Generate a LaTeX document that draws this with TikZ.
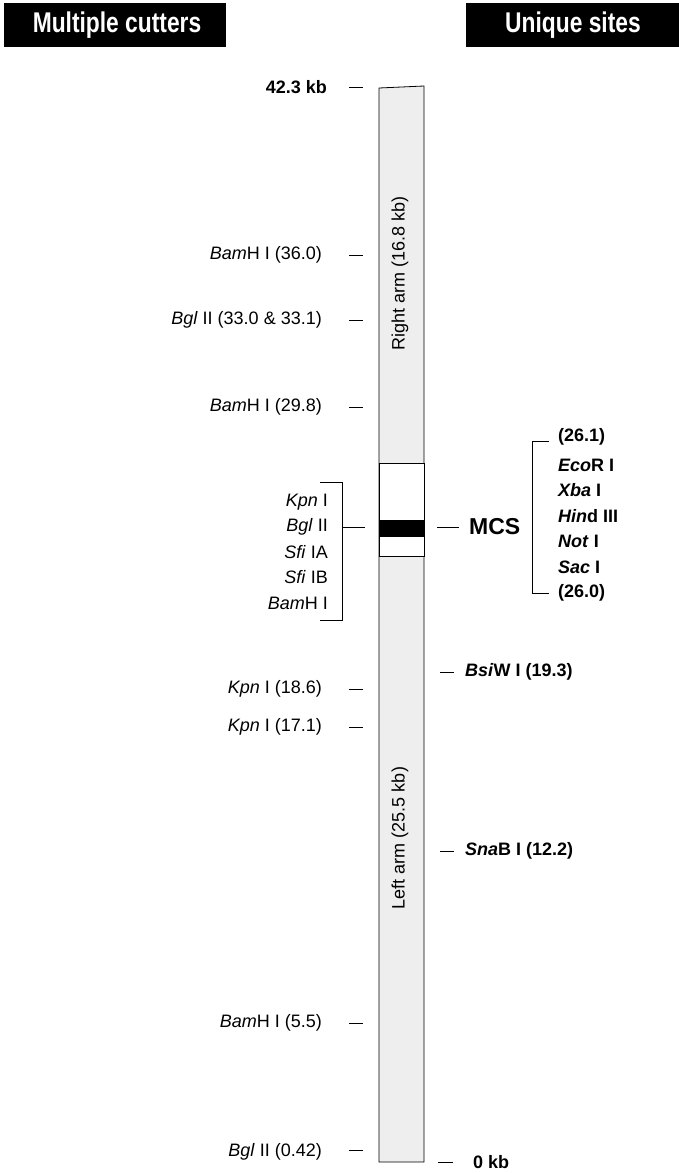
\documentclass[tikz,border=0pt]{standalone}
\usepackage{fontspec}
\setmainfont{Liberation Sans}
\newfontfamily\headfont{Liberation Sans}[FakeStretch=0.8]
\definecolor{armgray}{HTML}{EEEEEE}

\begin{document}
\begin{tikzpicture}[x=1pt,y=-1pt,
  lbl/.style={inner sep=0pt,font=\fontsize{18}{20}\selectfont},
  blbl/.style={lbl,font=\fontsize{18}{20}\selectfont\bfseries},
  tick/.style={line width=0.8pt},
  header/.style={fill=black,text=white,font=\headfont\fontsize{28.5}{30}\selectfont\bfseries}]
\useasboundingbox (0,0) rectangle (679,1173);

% Column headers
\fill[black] (4,3) rectangle (226,47);
\node[header] (multi) at (117,25) {Multiple cutters};
\fill[black] (466,3) rectangle (679,47);
\node[header] (uniq) at (573,25) {Unique sites};

% Draw lambda vector bar
\filldraw[fill=armgray,line width=0.8pt] (379,88) -- (424,86) -- (424,1162) -- (379,1162) -- cycle;
\filldraw[fill=white,line width=0.8pt] (379,463) rectangle (424,556);
\fill[black] (379,520) rectangle (424,537);
\node[lbl,rotate=90] (rarm) at (400,273) {Right arm (16.8 kb)};
\node[lbl,rotate=90] (larm) at (400,838) {Left arm (25.5 kb)};

% Left side: multiple cutters
\node[blbl,anchor=east] (top) at (327,87) {42.3 kb};
\node[lbl,anchor=east] (bam36) at (322,255) {\textit{Bam}H I (36.0)};
\node[lbl,anchor=east] (bgl33) at (322,320) {\textit{Bgl} II (33.0 \& 33.1)};
\node[lbl,anchor=east] (bam29) at (322,407) {\textit{Bam}H I (29.8)};
\node[lbl,anchor=east] (kpn18) at (322,689) {\textit{Kpn} I (18.6)};
\node[lbl,anchor=east] (kpn17) at (322,727) {\textit{Kpn} I (17.1)};
\node[lbl,anchor=east] (bam5) at (322,1023) {\textit{Bam}H I (5.5)};
\node[lbl,anchor=east] (bgl0) at (322,1152) {\textit{Bgl} II (0.42)};
\foreach \y in {87,255,320,407,689,727,1023,1150}
  \draw[tick] (349,\y) -- (363,\y);

% Cutters inside the MCS
\node[lbl,anchor=east] (kpn) at (328,502) {\textit{Kpn} I};
\node[lbl,anchor=east] (bgl) at (328,527) {\textit{Bgl} II};
\node[lbl,anchor=east] (sfia) at (328,552) {\textit{Sfi} IA};
\node[lbl,anchor=east] (sfib) at (328,577) {\textit{Sfi} IB};
\node[lbl,anchor=east] (bam) at (328,603) {\textit{Bam}H I};
\draw[tick] (320,482) -- (342,482) -- (342,620) -- (320,620);
\draw[tick] (342,527) -- (365,527);

% MCS
\node[inner sep=0pt,anchor=west,font=\fontsize{23}{25}\selectfont\bfseries] (mcs) at (469,527) {MCS};
\draw[tick] (437,527) -- (459,527);

% Right side: unique sites
\node[blbl,anchor=west] (u261) at (558,437) {(26.1)};
\node[blbl,anchor=west] (eco) at (558,465) {\textit{Eco}R I};
\node[blbl,anchor=west] (xba) at (558,490) {\textit{Xba} I};
\node[blbl,anchor=west] (hind) at (558,516) {\textit{Hin}d III};
\node[blbl,anchor=west] (nott) at (558,541) {\textit{Not} I};
\node[blbl,anchor=west] (sac) at (558,567) {\textit{Sac} I};
\node[blbl,anchor=west] (u260) at (558,593) {(26.0)};
\draw[tick] (549,441) -- (532,441) -- (532,593) -- (549,593);

\node[blbl,anchor=west] (bsiw) at (465,672) {\textit{Bsi}W I (19.3)};
\draw[tick] (440,672) -- (454,672);
\node[blbl,anchor=west] (snab) at (465,851) {\textit{Sna}B I (12.2)};
\draw[tick] (440,851) -- (454,851);
\node[blbl,anchor=west] (zero) at (473,1162) {0 kb};
\draw[tick] (438,1162) -- (453,1162);
\end{tikzpicture}
\end{document}
